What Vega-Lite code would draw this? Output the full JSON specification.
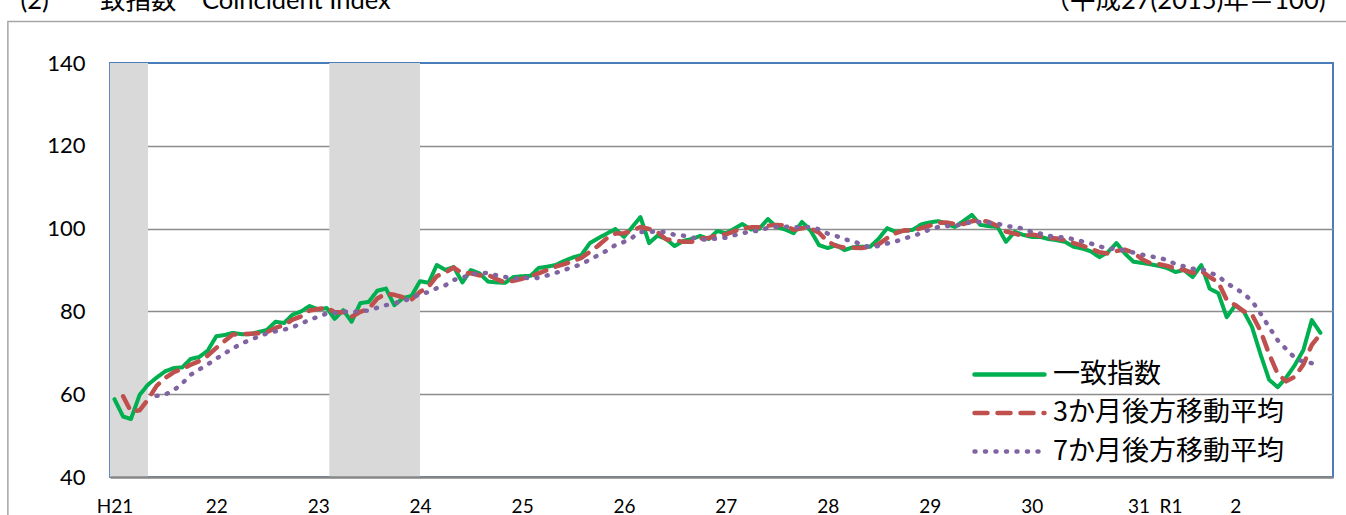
{
  "$schema": "https://vega.github.io/schema/vega-lite/v6.json",
  "width": 1223,
  "height": 414,
  "autosize": {"type": "none"},
  "padding": {"left": 110, "top": 63, "right": 13, "bottom": 38},
  "background": "white",
  "config": {"view": {"stroke": "#4A7EBB", "strokeWidth": 2}, "font": "Lato, Noto Sans CJK JP"},
  "datasets": {
    "shading": [{"開始": "2008-12-16", "終了": "2009-05-01"}, {"開始": "2011-02-10", "終了": "2012-01-01"}],
    "index": [
      {"月":"2009-01-01","一致指数":58.8},
      {"月":"2009-02-01","一致指数":54.6,"3か月後方移動平均":59.5},
      {"月":"2009-03-01","一致指数":54.0,"3か月後方移動平均":55.8},
      {"月":"2009-04-01","一致指数":59.8,"3か月後方移動平均":56.1},
      {"月":"2009-05-01","一致指数":62.3,"3か月後方移動平均":58.7},
      {"月":"2009-06-01","一致指数":64.0,"3か月後方移動平均":62.0,"7か月後方移動平均":59.6},
      {"月":"2009-07-01","一致指数":65.5,"3か月後方移動平均":63.9,"7か月後方移動平均":59.9},
      {"月":"2009-08-01","一致指数":66.3,"3か月後方移動平均":65.3,"7か月後方移動平均":60.9},
      {"月":"2009-09-01","一致指数":66.5,"3か月後方移動平均":66.1,"7か月後方移動平均":62.6},
      {"月":"2009-10-01","一致指数":68.5,"3か月後方移動平均":67.1,"7か月後方移動平均":64.7},
      {"月":"2009-11-01","一致指数":69.0,"3か月後方移動平均":68.0,"7か月後方移動平均":66.0},
      {"月":"2009-12-01","一致指数":70.5,"3か月後方移動平均":69.3,"7か月後方移動平均":67.2},
      {"月":"2010-01-01","一致指数":74.0,"3か月後方移動平均":71.2,"7か月後方移動平均":68.6},
      {"月":"2010-02-01","一致指数":74.3,"3か月後方移動平均":72.9,"7か月後方移動平均":69.9},
      {"月":"2010-03-01","一致指数":74.8,"3か月後方移動平均":74.4,"7か月後方移動平均":71.1},
      {"月":"2010-04-01","一致指数":74.5,"3か月後方移動平均":74.5,"7か月後方移動平均":72.2},
      {"月":"2010-05-01","一致指数":74.5,"3か月後方移動平均":74.6,"7か月後方移動平均":73.1},
      {"月":"2010-06-01","一致指数":75.0,"3か月後方移動平均":74.7,"7か月後方移動平均":73.9},
      {"月":"2010-07-01","一致指数":75.5,"3か月後方移動平均":75.0,"7か月後方移動平均":74.7},
      {"月":"2010-08-01","一致指数":77.5,"3か月後方移動平均":76.0,"7か月後方移動平均":75.2},
      {"月":"2010-09-01","一致指数":77.2,"3か月後方移動平均":76.7,"7か月後方移動平均":75.6},
      {"月":"2010-10-01","一致指数":79.2,"3か月後方移動平均":78.0,"7か月後方移動平均":76.2},
      {"月":"2010-11-01","一致指数":80.0,"3か月後方移動平均":78.8,"7か月後方移動平均":77.0},
      {"月":"2010-12-01","一致指数":81.3,"3か月後方移動平均":80.2,"7か月後方移動平均":78.0},
      {"月":"2011-01-01","一致指数":80.5,"3か月後方移動平均":80.6,"7か月後方移動平均":78.7},
      {"月":"2011-02-01","一致指数":80.8,"3か月後方移動平均":80.9,"7か月後方移動平均":79.5},
      {"月":"2011-03-01","一致指数":78.2,"3か月後方移動平均":79.8,"7か月後方移動平均":79.6},
      {"月":"2011-04-01","一致指数":80.3,"3か月後方移動平均":79.8,"7か月後方移動平均":80.0},
      {"月":"2011-05-01","一致指数":77.5,"3か月後方移動平均":78.7,"7か月後方移動平均":79.8},
      {"月":"2011-06-01","一致指数":82.0,"3か月後方移動平均":79.9,"7か月後方移動平均":80.1},
      {"月":"2011-07-01","一致指数":82.3,"3か月後方移動平均":80.6,"7か月後方移動平均":80.2},
      {"月":"2011-08-01","一致指数":85.0,"3か月後方移動平均":83.1,"7か月後方移動平均":80.9},
      {"月":"2011-09-01","一致指数":85.5,"3か月後方移動平均":84.3,"7か月後方移動平均":81.5},
      {"月":"2011-10-01","一致指数":81.5,"3か月後方移動平均":84.0,"7か月後方移動平均":82.0},
      {"月":"2011-11-01","一致指数":83.2,"3か月後方移動平均":83.4,"7か月後方移動平均":82.4},
      {"月":"2011-12-01","一致指数":83.7,"3か月後方移動平均":82.8,"7か月後方移動平均":83.3},
      {"月":"2012-01-01","一致指数":87.3,"3か月後方移動平均":84.7,"7か月後方移動平均":84.1},
      {"月":"2012-02-01","一致指数":86.9,"3か月後方移動平均":86.0,"7か月後方移動平均":84.7},
      {"月":"2012-03-01","一致指数":91.2,"3か月後方移動平均":88.5,"7か月後方移動平均":85.6},
      {"月":"2012-04-01","一致指数":90.0,"3か月後方移動平均":89.4,"7か月後方移動平均":86.3},
      {"月":"2012-05-01","一致指数":90.7,"3か月後方移動平均":90.6,"7か月後方移動平均":87.6},
      {"月":"2012-06-01","一致指数":87.0,"3か月後方移動平均":89.2,"7か月後方移動平均":88.1},
      {"月":"2012-07-01","一致指数":90.0,"3か月後方移動平均":89.2,"7か月後方移動平均":89.0},
      {"月":"2012-08-01","一致指数":89.2,"3か月後方移動平均":88.7,"7か月後方移動平均":89.3},
      {"月":"2012-09-01","一致指数":87.2,"3か月後方移動平均":88.8,"7か月後方移動平均":89.3},
      {"月":"2012-10-01","一致指数":87.0,"3か月後方移動平均":87.8,"7か月後方移動平均":88.7},
      {"月":"2012-11-01","一致指数":86.9,"3か月後方移動平均":87.0,"7か月後方移動平均":88.3},
      {"月":"2012-12-01","一致指数":88.3,"3か月後方移動平均":87.4,"7か月後方移動平均":87.9},
      {"月":"2013-01-01","一致指数":88.5,"3か月後方移動平均":87.9,"7か月後方移動平均":88.2},
      {"月":"2013-02-01","一致指数":88.6,"3か月後方移動平均":88.5,"7か月後方移動平均":88.0},
      {"月":"2013-03-01","一致指数":90.5,"3か月後方移動平均":89.2,"7か月後方移動平均":88.1},
      {"月":"2013-04-01","一致指数":90.8,"3か月後方移動平均":90.0,"7か月後方移動平均":88.7},
      {"月":"2013-05-01","一致指数":91.2,"3か月後方移動平均":90.8,"7か月後方移動平均":89.3},
      {"月":"2013-06-01","一致指数":92.2,"3か月後方移動平均":91.4,"7か月後方移動平均":90.0},
      {"月":"2013-07-01","一致指数":93.0,"3か月後方移動平均":92.1,"7か月後方移動平均":90.7},
      {"月":"2013-08-01","一致指数":93.6,"3か月後方移動平均":92.9,"7か月後方移動平均":91.4},
      {"月":"2013-09-01","一致指数":96.5,"3か月後方移動平均":94.4,"7か月後方移動平均":92.5},
      {"月":"2013-10-01","一致指数":97.7,"3か月後方移動平均":95.9,"7か月後方移動平均":93.6},
      {"月":"2013-11-01","一致指数":98.8,"3か月後方移動平均":97.7,"7か月後方移動平均":94.7},
      {"月":"2013-12-01","一致指数":99.9,"3か月後方移動平均":98.8,"7か月後方移動平均":96.0},
      {"月":"2014-01-01","一致指数":98.0,"3か月後方移動平均":98.9,"7か月後方移動平均":96.8},
      {"月":"2014-02-01","一致指数":100.5,"3か月後方移動平均":99.5,"7か月後方移動平均":97.9},
      {"月":"2014-03-01","一致指数":102.8,"3か月後方移動平均":100.4,"7か月後方移動平均":99.2},
      {"月":"2014-04-01","一致指数":96.5,"3か月後方移動平均":99.9,"7か月後方移動平均":99.2},
      {"月":"2014-05-01","一致指数":98.3,"3か月後方移動平均":99.2,"7か月後方移動平均":99.3},
      {"月":"2014-06-01","一致指数":97.5,"3か月後方移動平均":97.4,"7か月後方移動平均":99.1},
      {"月":"2014-07-01","一致指数":95.8,"3か月後方移動平均":97.2,"7か月後方移動平均":98.5},
      {"月":"2014-08-01","一致指数":97.0,"3か月後方移動平均":96.8,"7か月後方移動平均":98.3},
      {"月":"2014-09-01","一致指数":97.5,"3か月後方移動平均":96.8,"7か月後方移動平均":97.9},
      {"月":"2014-10-01","一致指数":98.2,"3か月後方移動平均":97.6,"7か月後方移動平均":97.3},
      {"月":"2014-11-01","一致指数":97.5,"3か月後方移動平均":97.7,"7か月後方移動平均":97.4},
      {"月":"2014-12-01","一致指数":99.4,"3か月後方移動平均":98.4,"7か月後方移動平均":97.6},
      {"月":"2015-01-01","一致指数":98.9,"3か月後方移動平均":98.6,"7か月後方移動平均":97.8},
      {"月":"2015-02-01","一致指数":100.0,"3か月後方移動平均":99.4,"7か月後方移動平均":98.4},
      {"月":"2015-03-01","一致指数":101.1,"3か月後方移動平均":100.0,"7か月後方移動平均":98.9},
      {"月":"2015-04-01","一致指数":99.8,"3か月後方移動平均":100.3,"7か月後方移動平均":99.3},
      {"月":"2015-05-01","一致指数":100.0,"3か月後方移動平均":100.3,"7か月後方移動平均":99.5},
      {"月":"2015-06-01","一致指数":102.3,"3か月後方移動平均":100.7,"7か月後方移動平均":100.2},
      {"月":"2015-07-01","一致指数":100.4,"3か月後方移動平均":100.9,"7か月後方移動平均":100.4},
      {"月":"2015-08-01","一致指数":99.8,"3か月後方移動平均":100.8,"7か月後方移動平均":100.5},
      {"月":"2015-09-01","一致指数":98.9,"3か月後方移動平均":99.7,"7か月後方移動平均":100.3},
      {"月":"2015-10-01","一致指数":101.6,"3か月後方移動平均":100.1,"7か月後方移動平均":100.4},
      {"月":"2015-11-01","一致指数":99.5,"3か月後方移動平均":100.0,"7か月後方移動平均":100.4},
      {"月":"2015-12-01","一致指数":96.0,"3か月後方移動平均":99.0,"7か月後方移動平均":99.8},
      {"月":"2016-01-01","一致指数":95.3,"3か月後方移動平均":96.9,"7か月後方移動平均":98.8},
      {"月":"2016-02-01","一致指数":96.0,"3か月後方移動平均":95.8,"7か月後方移動平均":98.2},
      {"月":"2016-03-01","一致指数":94.8,"3か月後方移動平均":95.4,"7か月後方移動平均":97.4},
      {"月":"2016-04-01","一致指数":95.5,"3か月後方移動平均":95.4,"7か月後方移動平均":97.0},
      {"月":"2016-05-01","一致指数":95.6,"3か月後方移動平均":95.3,"7か月後方移動平均":96.1},
      {"月":"2016-06-01","一致指数":95.6,"3か月後方移動平均":95.6,"7か月後方移動平均":95.5},
      {"月":"2016-07-01","一致指数":97.5,"3か月後方移動平均":96.2,"7か月後方移動平均":95.8},
      {"月":"2016-08-01","一致指数":100.1,"3か月後方移動平均":97.7,"7か月後方移動平均":96.4},
      {"月":"2016-09-01","一致指数":99.2,"3か月後方移動平均":98.9,"7か月後方移動平均":96.9},
      {"月":"2016-10-01","一致指数":99.5,"3か月後方移動平均":99.6,"7か月後方移動平均":97.6},
      {"月":"2016-11-01","一致指数":99.7,"3か月後方移動平均":99.5,"7か月後方移動平均":98.2},
      {"月":"2016-12-01","一致指数":101.0,"3か月後方移動平均":100.1,"7か月後方移動平均":98.9},
      {"月":"2017-01-01","一致指数":101.5,"3か月後方移動平均":100.7,"7か月後方移動平均":99.8},
      {"月":"2017-02-01","一致指数":101.8,"3か月後方移動平均":101.4,"7か月後方移動平均":100.4},
      {"月":"2017-03-01","一致指数":101.2,"3か月後方移動平均":101.5,"7か月後方移動平均":100.6},
      {"月":"2017-04-01","一致指数":100.4,"3か月後方移動平均":101.1,"7か月後方移動平均":100.7},
      {"月":"2017-05-01","一致指数":101.8,"3か月後方移動平均":101.1,"7か月後方移動平均":101.1},
      {"月":"2017-06-01","一致指数":103.3,"3か月後方移動平均":101.8,"7か月後方移動平均":101.6},
      {"月":"2017-07-01","一致指数":100.9,"3か月後方移動平均":102.0,"7か月後方移動平均":101.6},
      {"月":"2017-08-01","一致指数":100.6,"3か月後方移動平均":101.6,"7か月後方移動平均":101.4},
      {"月":"2017-09-01","一致指数":100.4,"3か月後方移動平均":100.6,"7か月後方移動平均":101.2},
      {"月":"2017-10-01","一致指数":96.8,"3か月後方移動平均":99.3,"7か月後方移動平均":100.6},
      {"月":"2017-11-01","一致指数":99.2,"3か月後方移動平均":98.8,"7か月後方移動平均":100.4},
      {"月":"2017-12-01","一致指数":98.5,"3か月後方移動平均":98.2,"7か月後方移動平均":100.0},
      {"月":"2018-01-01","一致指数":98.0,"3か月後方移動平均":98.6,"7か月後方移動平均":99.2},
      {"月":"2018-02-01","一致指数":98.0,"3か月後方移動平均":98.2,"7か月後方移動平均":98.8},
      {"月":"2018-03-01","一致指数":97.5,"3か月後方移動平均":97.8,"7か月後方移動平均":98.3},
      {"月":"2018-04-01","一致指数":97.2,"3か月後方移動平均":97.6,"7か月後方移動平均":97.9},
      {"月":"2018-05-01","一致指数":96.8,"3か月後方移動平均":97.2,"7か月後方移動平均":97.9},
      {"月":"2018-06-01","一致指数":95.6,"3か月後方移動平均":96.5,"7か月後方移動平均":97.4},
      {"月":"2018-07-01","一致指数":95.2,"3か月後方移動平均":95.9,"7か月後方移動平均":96.9},
      {"月":"2018-08-01","一致指数":94.5,"3か月後方移動平均":95.1,"7か月後方移動平均":96.4},
      {"月":"2018-09-01","一致指数":93.1,"3か月後方移動平均":94.3,"7か月後方移動平均":95.7},
      {"月":"2018-10-01","一致指数":94.3,"3か月後方移動平均":94.0,"7か月後方移動平均":95.2},
      {"月":"2018-11-01","一致指数":96.5,"3か月後方移動平均":94.6,"7か月後方移動平均":95.1},
      {"月":"2018-12-01","一致指数":94.0,"3か月後方移動平均":94.9,"7か月後方移動平均":94.7},
      {"月":"2019-01-01","一致指数":92.0,"3か月後方移動平均":94.2,"7か月後方移動平均":94.2},
      {"月":"2019-02-01","一致指数":91.7,"3か月後方移動平均":92.6,"7か月後方移動平均":93.7},
      {"月":"2019-03-01","一致指数":91.4,"3か月後方移動平均":91.7,"7か月後方移動平均":93.3},
      {"月":"2019-04-01","一致指数":91.0,"3か月後方移動平均":91.4,"7か月後方移動平均":93.0},
      {"月":"2019-05-01","一致指数":90.5,"3か月後方移動平均":91.0,"7か月後方移動平均":92.4},
      {"月":"2019-06-01","一致指数":89.5,"3か月後方移動平均":90.3,"7か月後方移動平均":91.4},
      {"月":"2019-07-01","一致指数":90.0,"3か月後方移動平均":90.0,"7か月後方移動平均":90.9},
      {"月":"2019-08-01","一致指数":88.3,"3か月後方移動平均":89.3,"7か月後方移動平均":90.3},
      {"月":"2019-09-01","一致指数":91.2,"3か月後方移動平均":89.8,"7か月後方移動平均":90.3},
      {"月":"2019-10-01","一致指数":85.5,"3か月後方移動平均":88.3,"7か月後方移動平均":89.4},
      {"月":"2019-11-01","一致指数":84.4,"3か月後方移動平均":87.0,"7か月後方移動平均":88.5},
      {"月":"2019-12-01","一致指数":78.6,"3か月後方移動平均":82.8,"7か月後方移動平均":86.8},
      {"月":"2020-01-01","一致指数":81.5,"3か月後方移動平均":81.5,"7か月後方移動平均":85.6},
      {"月":"2020-02-01","一致指数":79.9,"3か月後方移動平均":80.0,"7か月後方移動平均":84.2},
      {"月":"2020-03-01","一致指数":76.2,"3か月後方移動平均":79.2,"7か月後方移動平均":82.5},
      {"月":"2020-04-01","一致指数":69.5,"3か月後方移動平均":75.2,"7か月後方移動平均":79.4},
      {"月":"2020-05-01","一致指数":63.5,"3か月後方移動平均":69.7,"7か月後方移動平均":76.2},
      {"月":"2020-06-01","一致指数":61.7,"3か月後方移動平均":64.9,"7か月後方移動平均":73.0},
      {"月":"2020-07-01","一致指数":64.0,"3か月後方移動平均":63.1,"7か月後方移動平均":70.9},
      {"月":"2020-08-01","一致指数":67.0,"3か月後方移動平均":64.2,"7か月後方移動平均":68.8},
      {"月":"2020-09-01","一致指数":70.7,"3か月後方移動平均":67.2,"7か月後方移動平均":67.8},
      {"月":"2020-10-01","一致指数":77.9,"3か月後方移動平均":71.9,"7か月後方移動平均":67.5},
      {"月":"2020-11-01","一致指数":74.8,"3か月後方移動平均":74.5,"7か月後方移動平均":67.5}
    ]
  },
  "layer": [
    {
      "data": {"name": "shading"},
      "mark": {"type": "rect", "color": "#D9D9D9"},
      "encoding": {
        "x": {"field": "開始", "type": "temporal", "scale": {"domain": [{"year": 2008, "month": 12, "date": 16}, {"year": 2020, "month": 12, "date": 16}]}},
        "x2": {"field": "終了"}
      }
    },
    {
      "data": {"name": "index"},
      "transform": [
        {"fold": ["一致指数"], "as": ["系列", "値"]},
        {"filter": "isValid(datum['値'])"}
      ],
      "mark": {"type": "line", "strokeWidth": 4, "strokeCap": "round", "strokeJoin": "round"},
      "encoding": {
        "x": {
          "field": "月", "type": "temporal",
          "scale": {"domain": [{"year": 2008, "month": 12, "date": 16}, {"year": 2020, "month": 12, "date": 16}]},
          "axis": {
            "title": "(2)　一致指数　Coincident Index", "titleAngle": 0, "titleAlign": "left", "titleBaseline": "alphabetic",
            "titleX": -90, "titleY": -469, "titleFont": "Lato, Noto Sans CJK JP", "titleFontSize": 25.5, "titleFontWeight": "normal", "titleColor": "#000000",
            "values": [{"year": 2009, "month": 1, "date": 1}, {"year": 2010, "month": 1, "date": 1}, {"year": 2011, "month": 1, "date": 1}, {"year": 2012, "month": 1, "date": 1}, {"year": 2013, "month": 1, "date": 1}, {"year": 2014, "month": 1, "date": 1}, {"year": 2015, "month": 1, "date": 1}, {"year": 2016, "month": 1, "date": 1}, {"year": 2017, "month": 1, "date": 1}, {"year": 2018, "month": 1, "date": 1}, {"year": 2019, "month": 3, "date": 18}, {"year": 2020, "month": 1, "date": 1}],
            "labelExpr": "year(datum.value) == 2009 ? 'H21' : year(datum.value) == 2019 ? '31\u2002R1' : year(datum.value) == 2020 ? '2' : '' + (year(datum.value) - 1988)",
            "ticks": false, "tickSize": 0, "grid": false,
            "domain": true, "domainColor": "#868686", "domainWidth": 2.5,
            "labelFont": "Lato", "labelFontSize": 19, "labelColor": "#000000", "labelPadding": 20,
            "labelFlush": false, "labelOverlap": false, "zindex": 1
          }
        },
        "y": {
          "field": "値", "type": "quantitative",
          "scale": {"domain": [40, 140], "nice": false, "zero": false},
          "axis": {
            "title": "（平成27(2015)年＝100)", "titleAngle": 0, "titleAlign": "right", "titleBaseline": "alphabetic",
            "titleX": 1215, "titleY": -55, "titleFont": "Lato, Noto Sans CJK JP", "titleFontSize": 25.5, "titleFontWeight": "normal", "titleColor": "#000000",
            "values": [40, 60, 80, 100, 120, 140],
            "domain": true, "domainColor": "#9DBBE0", "domainWidth": 1.5, "ticks": false, "tickSize": 0,
            "labelPadding": 25, "labelFont": "Lato", "labelFontSize": 22, "labelColor": "#000000",
            "grid": true, "gridColor": "#8C8C8C", "gridWidth": 1.5,
            "gridOpacity": {"condition": {"test": "datum.value == 40 || datum.value == 140", "value": 0}, "value": 1}
          }
        },
        "color": {
          "field": "系列", "type": "nominal",
          "scale": {"domain": ["一致指数", "3か月後方移動平均", "7か月後方移動平均"], "range": ["#00B050", "#C0504D", "#8064A2"]},
          "legend": {"title": null, "orient": "none", "legendX": 851, "legendY": 298, "symbolType": "M0,0H7", "symbolSize": 400, "symbolStrokeWidth": 4.5, "labelFont": "Noto Sans CJK JP", "labelFontSize": 27, "labelColor": "#000000", "labelOffset": 65, "rowPadding": 10.5, "padding": 0, "labelLimit": 400, "encode": {"symbols": {"update": {"strokeCap": {"value": "round"}}}}}
        },
        "strokeDash": {
          "field": "系列", "type": "nominal",
          "scale": {"domain": ["一致指数", "3か月後方移動平均", "7か月後方移動平均"], "range": [[1, 0], [13, 10], [1, 9.5]]},
          "legend": {"title": null, "orient": "none", "legendX": 851, "legendY": 298, "symbolType": "M0,0H7", "symbolSize": 400, "symbolStrokeWidth": 4.5, "labelFont": "Noto Sans CJK JP", "labelFontSize": 27, "labelColor": "#000000", "labelOffset": 65, "rowPadding": 10.5, "padding": 0, "labelLimit": 400, "encode": {"symbols": {"update": {"strokeCap": {"value": "round"}}}}}
        }
      }
    },
    {
      "data": {"name": "index"},
      "transform": [
        {"fold": ["3か月後方移動平均"], "as": ["系列", "値"]},
        {"filter": "isValid(datum['値'])"}
      ],
      "mark": {"type": "line", "strokeWidth": 4.5, "strokeCap": "round", "strokeJoin": "round"},
      "encoding": {
        "x": {"field": "月", "type": "temporal"},
        "y": {"field": "値", "type": "quantitative"},
        "color": {"field": "系列", "type": "nominal"},
        "strokeDash": {"field": "系列", "type": "nominal"}
      }
    },
    {
      "data": {"name": "index"},
      "transform": [
        {"fold": ["7か月後方移動平均"], "as": ["系列", "値"]},
        {"filter": "isValid(datum['値'])"}
      ],
      "mark": {"type": "line", "strokeWidth": 4.5, "strokeCap": "round", "strokeJoin": "round"},
      "encoding": {
        "x": {"field": "月", "type": "temporal"},
        "y": {"field": "値", "type": "quantitative"},
        "color": {"field": "系列", "type": "nominal"},
        "strokeDash": {"field": "系列", "type": "nominal"}
      }
    },
    {
      "data": {"values": [{}]},
      "mark": {"type": "rect", "filled": false, "stroke": "#A6A6A6", "strokeWidth": 1.5, "clip": false},
      "encoding": {
        "x": {"datum": {"year": 2007, "month": 12, "date": 16}, "type": "temporal", "scale": {"domain": [{"year": 2008, "month": 12, "date": 16}, {"year": 2020, "month": 12, "date": 16}]}},
        "x2": {"datum": {"year": 2022, "month": 6, "date": 1}},
        "y": {"datum": 150, "type": "quantitative", "scale": {"domain": [40, 140], "nice": false, "zero": false}},
        "y2": {"datum": 20}
      }
    }
  ]
}
